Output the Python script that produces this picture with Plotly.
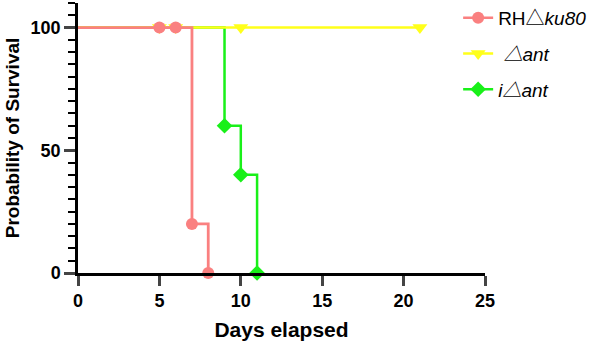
import plotly.graph_objects as go

# Data (Kaplan-Meier steps)
rh_days = [0, 5, 6, 7, 8]
rh_surv = [100, 100, 100, 20, 0]
rh_mark = [False, True, True, True, True]

ant_days = [0, 5, 6, 10, 21]
ant_surv = [100, 100, 100, 100, 100]
ant_mark = [False, True, True, True, True]

iant_days = [0, 9, 10, 11]
iant_surv = [100, 60, 40, 0]
iant_mark = [False, True, True, True]

TRI = "<span style='font-family:Noto Sans CJK SC'>\u25b3</span>"
names = ["RH" + TRI + "<i>ku80</i>", " <i>" + TRI + "ant</i>", "<i>i" + TRI + "ant</i>"]
colors = ["#FA8080", "#FFFF1A", "#19F019"]
symbols = ["circle", "triangle-down", "diamond"]
msizes = [12, 13, 12]

x_ticks = [0, 5, 10, 15, 20, 25]
y_ticks = [0, 50, 100]

series = [
    (rh_days, rh_surv, rh_mark),
    (ant_days, ant_surv, ant_mark),
    (iant_days, iant_surv, iant_mark),
]

fig = go.Figure()
# draw order: green bottom, yellow, pink top
for i in [2, 1, 0]:
    d, s, m = series[i]
    fig.add_trace(go.Scatter(
        x=d, y=s, mode="lines", line=dict(color=colors[i], width=2.8 if i == 0 else 2.5, shape="hv"),
        showlegend=False, hoverinfo="skip", cliponaxis=False))
    fig.add_trace(go.Scatter(
        x=[v for v, k in zip(d, m) if k], y=[v for v, k in zip(s, m) if k],
        mode="markers", marker=dict(color=colors[i], symbol=symbols[i], size=msizes[i]),
        showlegend=False, cliponaxis=False))

# legend entries
for i in range(3):
    fig.add_trace(go.Scatter(
        x=[None], y=[None], mode="lines+markers", name=names[i], legendgroup="g%d" % i,
        line=dict(color=colors[i], width=2.5),
        marker=dict(color=colors[i], symbol=symbols[i], size=msizes[i])))

fig.update_layout(
    width=598, height=346,
    margin=dict(l=78, r=113, t=3, b=73, autoexpand=False),
    plot_bgcolor="white", paper_bgcolor="white",
    font=dict(family="Liberation Sans, Arial, sans-serif", color="black"),
    legend=dict(x=0.934, y=1.015, xanchor="left", yanchor="top",
                font=dict(size=19, color="black"), itemwidth=30,
                tracegroupgap=8, bgcolor="rgba(0,0,0,0)"),
    xaxis=dict(range=[0, 25], tickvals=x_ticks, ticks="outside", ticklen=10,
               tickwidth=2.5, showline=True, linewidth=2.5, linecolor="black",
               showgrid=False, zeroline=False,
               tickfont=dict(size=18, family="Liberation Sans, Arial", weight="bold"),
               title=dict(text="<b>Days elapsed</b>", font=dict(size=21), standoff=12)),
    yaxis=dict(range=[0, 110], tickvals=y_ticks, ticks="outside", ticklen=11,
               tickwidth=2.5, showline=True, linewidth=2.5, linecolor="black",
               showgrid=False, zeroline=False,
               minor=dict(dtick=5, tick0=0, ticks="outside", ticklen=7, tickwidth=2, tickcolor="black", showgrid=False),
               tickfont=dict(size=18, family="Liberation Sans, Arial", weight="bold"),
               title=dict(text="<b>Probability of Survival</b>", font=dict(size=19), standoff=6)),
)

fig.write_html("out.html", config={"displayModeBar": False},
               post_script="document.body.style.margin='0';")
